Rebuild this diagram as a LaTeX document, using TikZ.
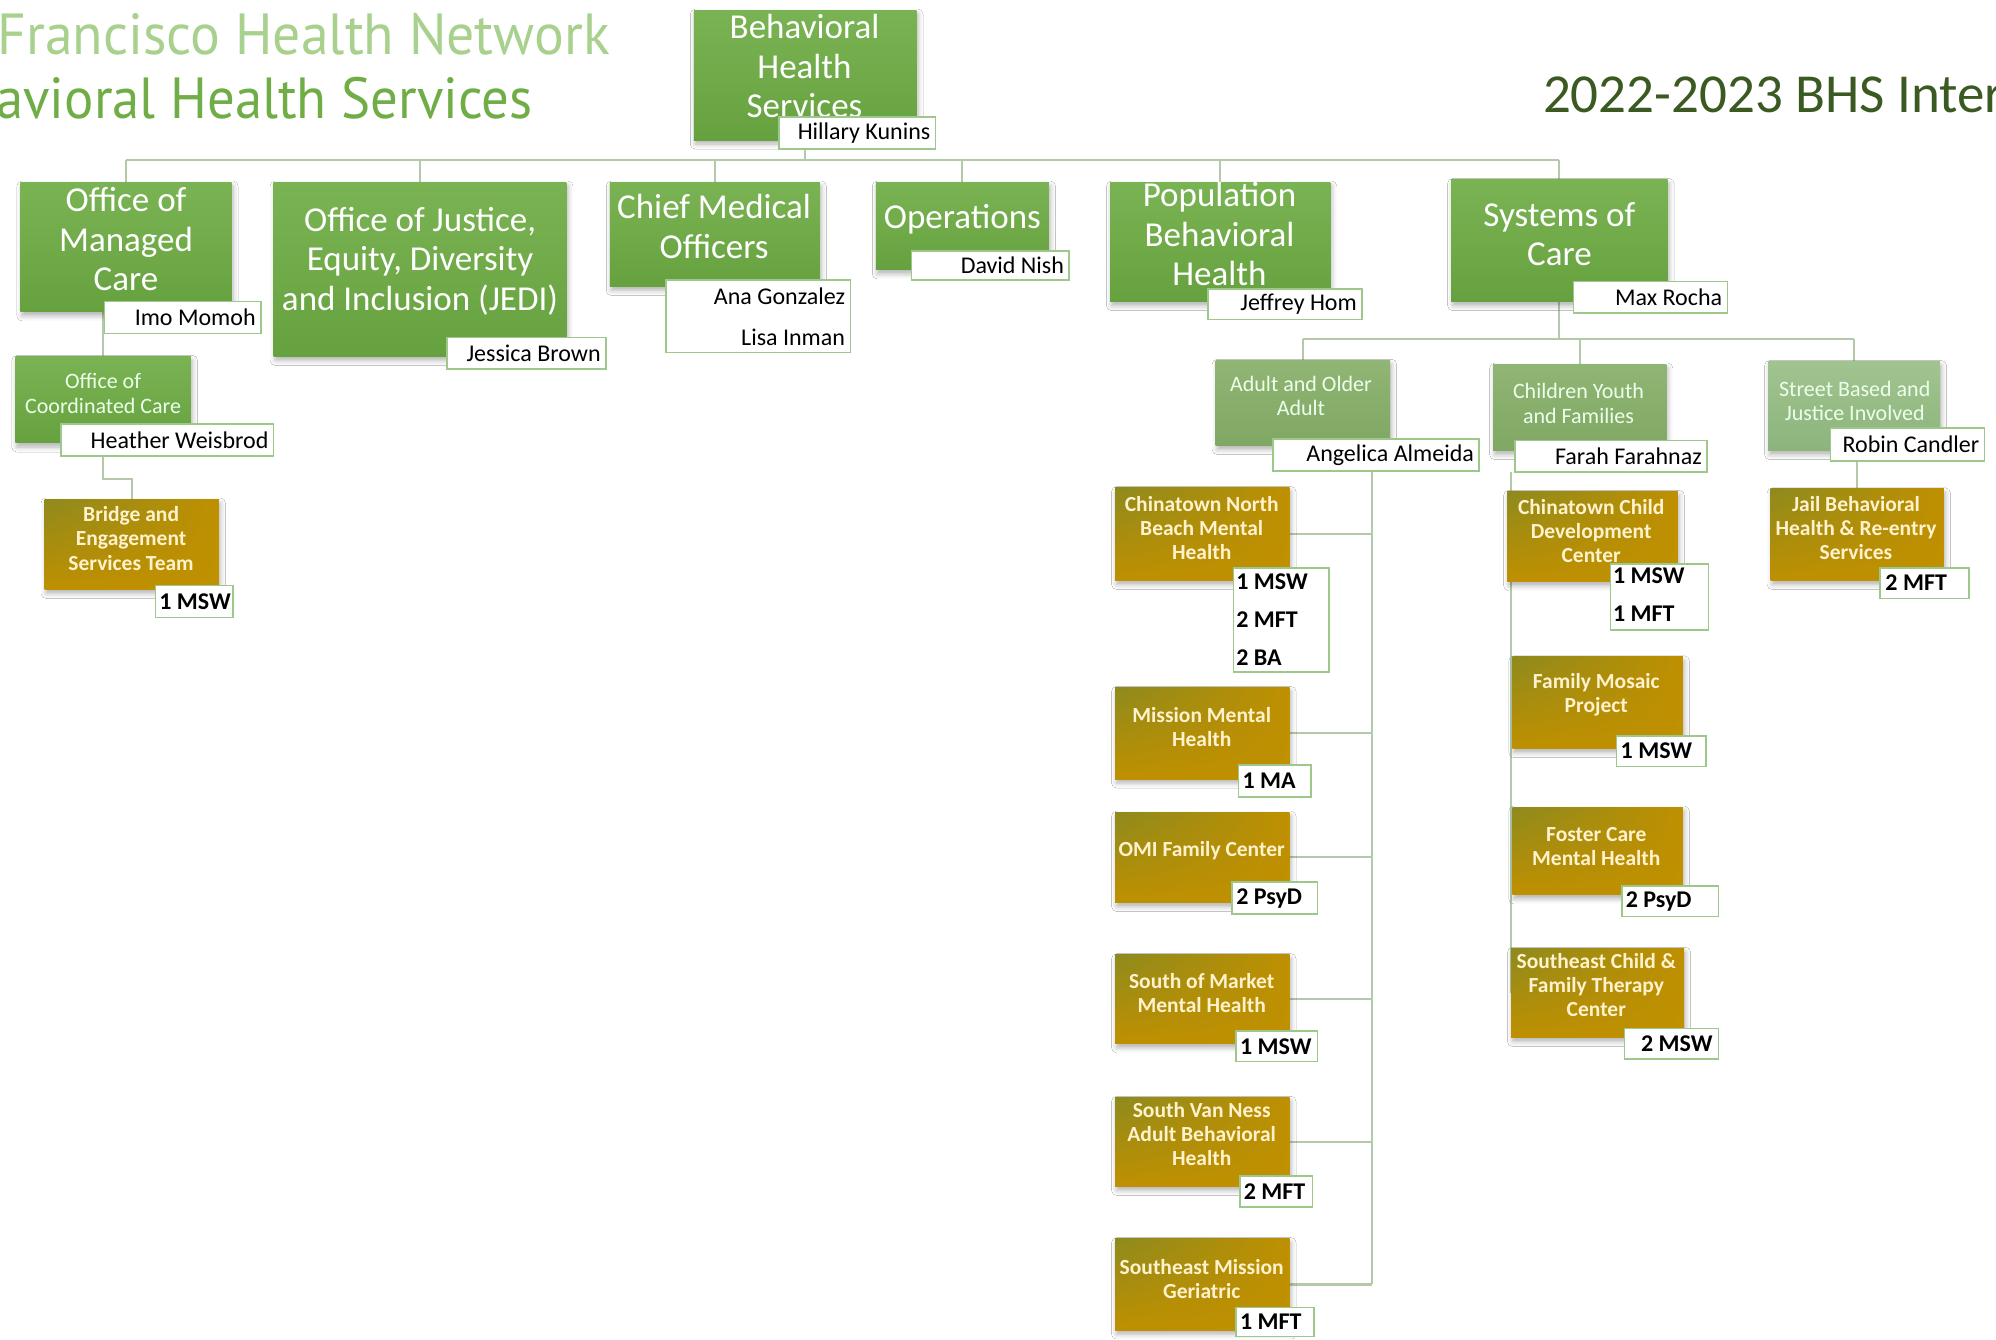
\documentclass[tikz,border=0pt]{standalone}
\usepackage{fontspec}
\setmainfont{Carlito}
\newfontfamily\titlefont{PT Sans}
\usetikzlibrary{fit,shadows.blur,shadings}
\pgfdeclarelayer{bg}
\pgfsetlayers{bg,main}
\definecolor{gTop}{HTML}{7AB353}
\definecolor{gBot}{HTML}{66A13F}
\definecolor{gThreeTop}{HTML}{90B574}
\definecolor{gThreeBot}{HTML}{80A764}
\definecolor{sTop}{HTML}{A0C490}
\definecolor{sBot}{HTML}{8DB47C}
\definecolor{oMain}{HTML}{BF9000}
\definecolor{oCorner}{HTML}{8E8A1E}
\definecolor{oText}{HTML}{FFF2CC}
\definecolor{lineC}{HTML}{B3C9A8}
\definecolor{tagC}{HTML}{9EC78C}
\definecolor{titleA}{HTML}{A9D18E}
\definecolor{titleB}{HTML}{70AD47}
\definecolor{titleC}{HTML}{3A5A22}
\newcommand\szTwo{\fontsize{35}{39.5}\selectfont}
\newcommand\szThree{\fontsize{22}{24.5}\selectfont}
\newcommand\szOr{\bfseries\fontsize{21.5}{24.2}\selectfont}
\newcommand\szTag{\fontsize{24}{41}\selectfont}
\newcommand\szStaff{\bfseries\fontsize{24}{38}\selectfont}
\newcommand\mkbox[6]{\node[#1, fit={(#3,#4) (#5,#6)}] (#2) {};}
\tikzset{
 x=1.273pt, y=-1.273pt,
 shd/.style={blur shadow={shadow xshift=1.5pt, shadow yshift=-4pt, shadow blur radius=5pt, shadow opacity=30}},
 gbox/.style={inner sep=0pt, top color=gTop, bottom color=gBot, shd},
 gthreebox/.style={inner sep=0pt, top color=gThreeTop, bottom color=gThreeBot, shd},
 sbox/.style={inner sep=0pt, top color=sTop, bottom color=sBot, shd},
 obox/.style={inner sep=0pt, shade, upper left=oCorner, upper right=oMain, lower left=oMain, lower right=oMain, shd},
 tagbox/.style={inner sep=0pt, draw=tagC, line width=1.6pt, fill=white},
 ttwo/.style={text=white, align=center, font=\szTwo, inner sep=0pt},
 tthree/.style={text=white!92!green, align=center, font=\szThree, inner sep=0pt},
 tor/.style={text=oText, align=center, font=\szOr, inner sep=0pt},
 tname/.style={text=black, font=\szTag, inner sep=0pt, anchor=east, align=right},
 tstaff/.style={text=black, font=\szStaff, inner sep=0pt, anchor=west, align=left},
 conn/.style={draw=lineC, line width=2.2pt},
}
\begin{document}
\begin{tikzpicture}
\useasboundingbox (0,0) rectangle (1568,1052);
\clip (0,0) rectangle (1568,1052);
% titles
\node[anchor=base west, inner sep=0pt, text=titleA, font=\titlefont\fontsize{58}{60}\selectfont] (tA) at (-2,43) {\scalebox{0.96}[1]{Francisco Health Network}};
\node[anchor=base west, inner sep=0pt, text=titleB, font=\titlefont\fontsize{58}{60}\selectfont] (tB) at (-3,93) {\scalebox{0.945}[1]{avioral Health Services}};
\node[anchor=base west, inner sep=0pt, text=titleC, font=\fontsize{55}{60}\selectfont] (tC) at (1212,88) {2022-2023 BHS Inter};
% top
\mkbox{gbox}{bhs}{545}{8}{720}{110}
\node[ttwo] at (632,52) {Behavioral\\Health\\Services};
\mkbox{tagbox}{hk}{612}{92}{735}{117}
\node[tname] at (731,104.5) {Hillary Kunins};
% level 2
\mkbox{gbox}{omc}{16}{143}{182}{245}
\node[ttwo] at (99,188) {Office of\\Managed\\Care};
\mkbox{gbox}{jedi}{215}{143}{445}{280}
\node[ttwo] at (330,205) {Office of Justice,\\Equity, Diversity\\and Inclusion (JEDI)};
\mkbox{gbox}{cmo}{479}{143}{644}{225}
\node[ttwo] at (561,178) {Chief Medical\\Officers};
\mkbox{gbox}{ops}{688}{143}{824}{212}
\node[ttwo] at (756,172) {Operations};
\mkbox{gbox}{pbh}{872}{143}{1045}{237}
\node[ttwo] at (958,184) {Population\\Behavioral\\Health};
\mkbox{gbox}{soc}{1140}{141}{1310}{237}
\node[ttwo] at (1225,184) {Systems of\\Care};
% level 2 tags
\mkbox{tagbox}{im}{82}{237}{205}{262}
\node[tname] at (201,249.5) {Imo Momoh};
\mkbox{tagbox}{jb}{351}{265}{476}{290}
\node[tname] at (472,277.5) {Jessica Brown};
\mkbox{tagbox}{ag}{523}{220}{668}{277}
\node[tname] at (664,248.5) {Ana Gonzalez\\Lisa Inman};
\mkbox{tagbox}{dn}{716}{197}{840}{220}
\node[tname] at (836,208.5) {David Nish};
\mkbox{tagbox}{jh}{949}{227}{1070}{251}
\node[tname] at (1066,239) {Jeffrey Hom};
\mkbox{tagbox}{mr}{1236}{221}{1357}{246}
\node[tname] at (1353,233.5) {Max Rocha};
% level 3
\mkbox{gbox}{occ}{12}{280}{150}{348}
\node[tthree] at (81,309) {Office of\\Coordinated Care};
\mkbox{tagbox}{hw}{48}{333}{215}{358}
\node[tname] at (211,345.5) {Heather Weisbrod};
\mkbox{gthreebox}{aoa}{955}{283}{1092}{350}
\node[tthree] at (1022,311) {Adult and Older\\Adult};
\mkbox{tagbox}{aa}{1000}{345}{1162}{370}
\node[tname] at (1158,357.5) {Angelica Almeida};
\mkbox{gthreebox}{cyf}{1173}{286}{1309}{354}
\node[tthree] at (1240,317) {Children Youth\\and Families};
\mkbox{tagbox}{ff}{1190}{346}{1341}{371}
\node[tname] at (1337,358.5) {Farah Farahnaz};
\mkbox{sbox}{sbj}{1389}{284}{1524}{354}
\node[tthree] at (1457,315) {Street Based and\\Justice Involved};
\mkbox{tagbox}{rc}{1438}{336}{1559}{362}
\node[tname] at (1555,349) {Robin Candler};
% programs
\mkbox{obox}{bet}{35}{392}{172}{463}
\node[tor] at (103,423) {Bridge and\\Engagement\\Services Team};
\mkbox{tagbox}{sbet}{122}{460}{183}{485}
\node[tstaff] at (125,472.5) {1 MSW};
\mkbox{obox}{cnb}{876}{383}{1013}{456}
\node[tor] at (944,415) {Chinatown North\\Beach Mental\\Health};
\mkbox{tagbox}{scnb}{969}{446}{1044}{528}
\node[tstaff] at (971,487) {1 MSW\\2 MFT\\2 BA};
\mkbox{obox}{mmh}{876}{540}{1013}{612}
\node[tor] at (944,571) {Mission Mental\\Health};
\mkbox{tagbox}{smmh}{973}{601}{1030}{626}
\node[tstaff] at (976,613.5) {1 MA};
\mkbox{obox}{omi}{876}{638}{1013}{709}
\node[tor] at (944,668) {OMI Family Center};
\mkbox{tagbox}{somi}{968}{693}{1035}{718}
\node[tstaff] at (971,705.5) {2 PsyD};
\mkbox{obox}{som}{876}{750}{1013}{820}
\node[tor] at (944,780) {South of Market\\Mental Health};
\mkbox{tagbox}{ssom}{971}{810}{1035}{834}
\node[tstaff] at (974,822) {1 MSW};
\mkbox{obox}{svn}{876}{862}{1013}{932}
\node[tor] at (944,891) {South Van Ness\\Adult Behavioral\\Health};
\mkbox{tagbox}{ssvn}{974}{924}{1031}{948}
\node[tstaff] at (977,936) {2 MFT};
\mkbox{obox}{sem}{876}{973}{1013}{1045}
\node[tor] at (944,1005) {Southeast Mission\\Geriatric};
\mkbox{tagbox}{ssem}{971}{1027}{1032}{1050}
\node[tstaff] at (974,1038.5) {1 MFT};
\mkbox{obox}{ccdc}{1184}{386}{1318}{457}
\node[tor] at (1250,417) {Chinatown Child\\Development\\Center};
\mkbox{tagbox}{sccdc}{1265}{443}{1342}{495}
\node[tstaff] at (1267,467) {1 MSW\\1 MFT};
\mkbox{obox}{fmp}{1188}{516}{1322}{588}
\node[tor] at (1254,546) {Family Mosaic\\Project};
\mkbox{tagbox}{sfmp}{1270}{578}{1340}{602}
\node[tstaff] at (1273,590) {1 MSW};
\mkbox{obox}{fcmh}{1188}{634}{1322}{703}
\node[tor] at (1254,665) {Foster Care\\Mental Health};
\mkbox{tagbox}{sfcmh}{1274}{696}{1350}{720}
\node[tstaff] at (1277,708) {2 PsyD};
\mkbox{obox}{secf}{1187}{745}{1323}{815}
\node[tor] at (1254,774) {Southeast Child \&\\Family Therapy\\Center};
\mkbox{tagbox}{ssecf}{1276}{808}{1350}{832}
\node[tstaff] at (1289,820) {2 MSW};
\mkbox{obox}{jail}{1391}{384}{1527}{456}
\node[tor] at (1458,415) {Jail Behavioral\\Health \& Re-entry\\Services};
\mkbox{tagbox}{sjail}{1477}{446}{1547}{470}
\node[tstaff] at (1481,458) {2 MFT};
% connectors
\begin{pgfonlayer}{bg}
\fill[white] (0,0) rectangle (1568,1052);
\coordinate (busY) at (0,126);
\coordinate (busYthree) at (0,266);
\coordinate (aT) at (1078,370);
\coordinate (cT) at (1187,371);
\draw[conn] (bhs.center |- hk.south) -- (bhs.center |- busY);
\draw[conn] (omc.north |- busY) -- (soc.north |- busY);
\foreach \n in {omc,jedi,cmo,ops,pbh,soc} \draw[conn] (\n.north) -- (\n.north |- busY);
\draw[conn] (soc.south) -- (soc.south |- busYthree);
\draw[conn] (aoa.north |- busYthree) -- (sbj.north |- busYthree);
\foreach \n in {aoa,cyf,sbj} \draw[conn] (\n.north) -- (\n.north |- busYthree);
\draw[conn] (occ.north) -- (occ.north |- omc.south);
\draw[conn] (occ.south) -- ++(0,28) -| (bet.north);
\draw[conn] (aT) -- (aT |- sem.east);
\foreach \n in {cnb,mmh,omi,som,svn,sem} \draw[conn] (\n.east) -- (\n.east -| aT);
\draw[conn] (cT) -- (cT |- secf.west);
\foreach \n in {ccdc,fmp,fcmh,secf} \draw[conn] (\n.west) -- (\n.west -| cT);
\draw[conn] (jail.north) -- (jail.north |- sbj.south);
\end{pgfonlayer}
\end{tikzpicture}
\end{document}
